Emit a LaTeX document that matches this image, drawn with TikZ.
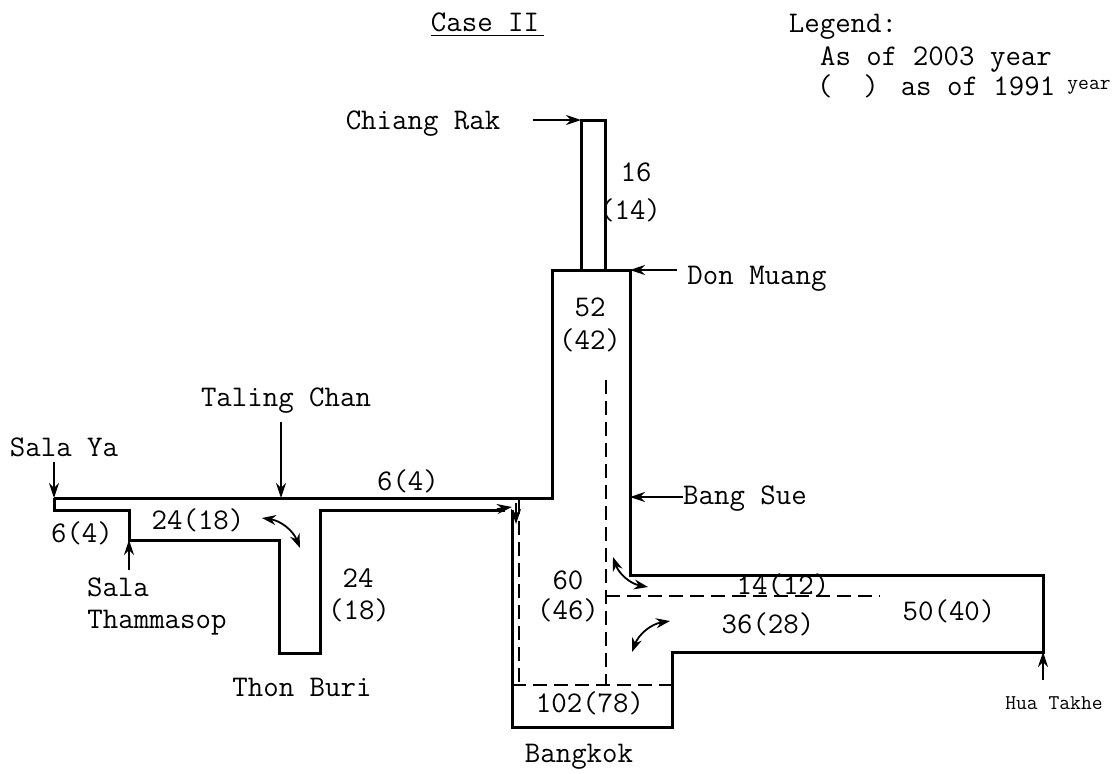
\documentclass[tikz,border=0pt]{standalone}
\usepackage{fontspec}
\usetikzlibrary{arrows.meta}
\tikzset{
  stationtext/.style={
    inner sep = 0pt,
    font=\fontsize{30}{30}\selectfont\ttfamily
  },
  smalltext/.style={
    inner sep = 0pt,
    font=\fontsize{21}{21}\selectfont\ttfamily
  },
  route/.style={
    line width=3pt,
    line join=miter
  },
  transfer/.style={
    line width=2.4pt,
    dash pattern=on 14pt off 7pt
  },
  entry/.style={
    line width=1.6pt,
    -{Stealth[length=15pt,width=10pt]}
  },
  turn/.style={
    line width=1.8pt,
    {Stealth[length=14pt,width=10pt]}-{Stealth[length=14pt,width=10pt]}
  },
  every picture/.style = {
    x=1pt,
    y=-1pt
  }
}
\begin{document}
\begin{tikzpicture}
    \useasboundingbox[fill=white] (0,0) rectangle (1112,774);
    \foreach \name/\x/\y/\txt in {
        casetwo/485/22/Case II, donmuang/757/279/Don Muang, chiangrak/423/124/Chiang Rak,
        talingchan/286/401/Taling Chan, salaya/64/447/Sala Ya, sala/118/587/Sala,
        thammasop/157/623/Thammasop, thonburi/302/687/Thon Buri, bangkok/579/757/Bangkok,
        sixfourleft/82/533/6(4), sixfourmid/408/481/6(4), twentyfourh/198/520/24(18),
        twentyfourv/358/578/24, eighteenv/359/610/(18), sixteen/636/172/16, fourteen/630/210/(14),
        fiftytwo/590/307/52, fortytwo/590/340/(42), sixty/568/580/60, fortysix/568/610/(46),
        hundredtwo/590/703/102(78), fourteenh/783/585/14(12), thirtysix/768/624/36(28),
        fifty/949/611/50(40), legend/843/27/Legend:, asof/936/60/As of 2003 year,
        parens/848/86/(\ \ ), asofold/978/86/as of 1991}{
            \node[stationtext] (\name) at (\x,\y) {\txt};
        }
    \node[stationtext,anchor=west] (bangsue) at (683,499) {Bang Sue};
    \node[smalltext] (oldyear) at (1089,87) {year};
    \node[smalltext] (huatakhe) at (1054,703) {Hua Takhe};

    \draw[line width=1pt] (casetwo.south west) ++(0,4) -- ++(113,0);

    \draw[route] (581,270) -- (581,120) -- (605,120) -- (605,270);
    \draw[route] (54,498) -- (552,498) -- (552,270) -- (630,270) -- (630,575) -- (1043,575)
        -- (1043,652) -- (672,652) -- (672,727) -- (512,727) -- (512,510);
    \draw[route] (54,498) -- (54,510) -- (129,510) -- (129,540) -- (279,540) -- (279,653)
        -- (320,653) -- (320,510) -- (505,510);

    \draw[transfer] (606,380) -- (606,685);
    \draw[transfer] (512,685) -- (672,685);
    \draw[transfer] (519,500) -- (519,685);
    \draw[transfer] (606,596) -- (880,596);

    \coordinate (salayatop) at (54,462);
    \coordinate (salayajoin) at (54,498);
    \coordinate (talingjoin) at (281,498);
    \coordinate (salajoin) at (129,540);
    \coordinate (chiangjoin) at (581,120);
    \coordinate (donstart) at (677,270);
    \coordinate (donjoin) at (630,270);
    \coordinate (suestart) at (683,497);
    \coordinate (suejoin) at (630,497);
    \coordinate (huajoin) at (1043,652);
    \draw[entry] (salayatop) -- (salayajoin);
    \draw[entry] (281,422) -- (talingjoin);
    \draw[entry] (129,570) -- (salajoin);
    \draw[entry] (533,120) -- (chiangjoin);
    \draw[entry] (donstart) -- (donjoin);
    \draw[entry] (suestart) -- (suejoin);
    \draw[entry] (1043,680) -- (huajoin);
    \draw[entry] (497,509) -- (512,507);
    \draw[entry] (516,503) -- (516,524);

    \draw[turn] (262,518) to[bend left=30] (300,548);
    \draw[turn] (613,557) to[bend right=30] (648,587);
    \draw[turn] (632,652) to[bend left=30] (670,621);
\end{tikzpicture}
\end{document}
